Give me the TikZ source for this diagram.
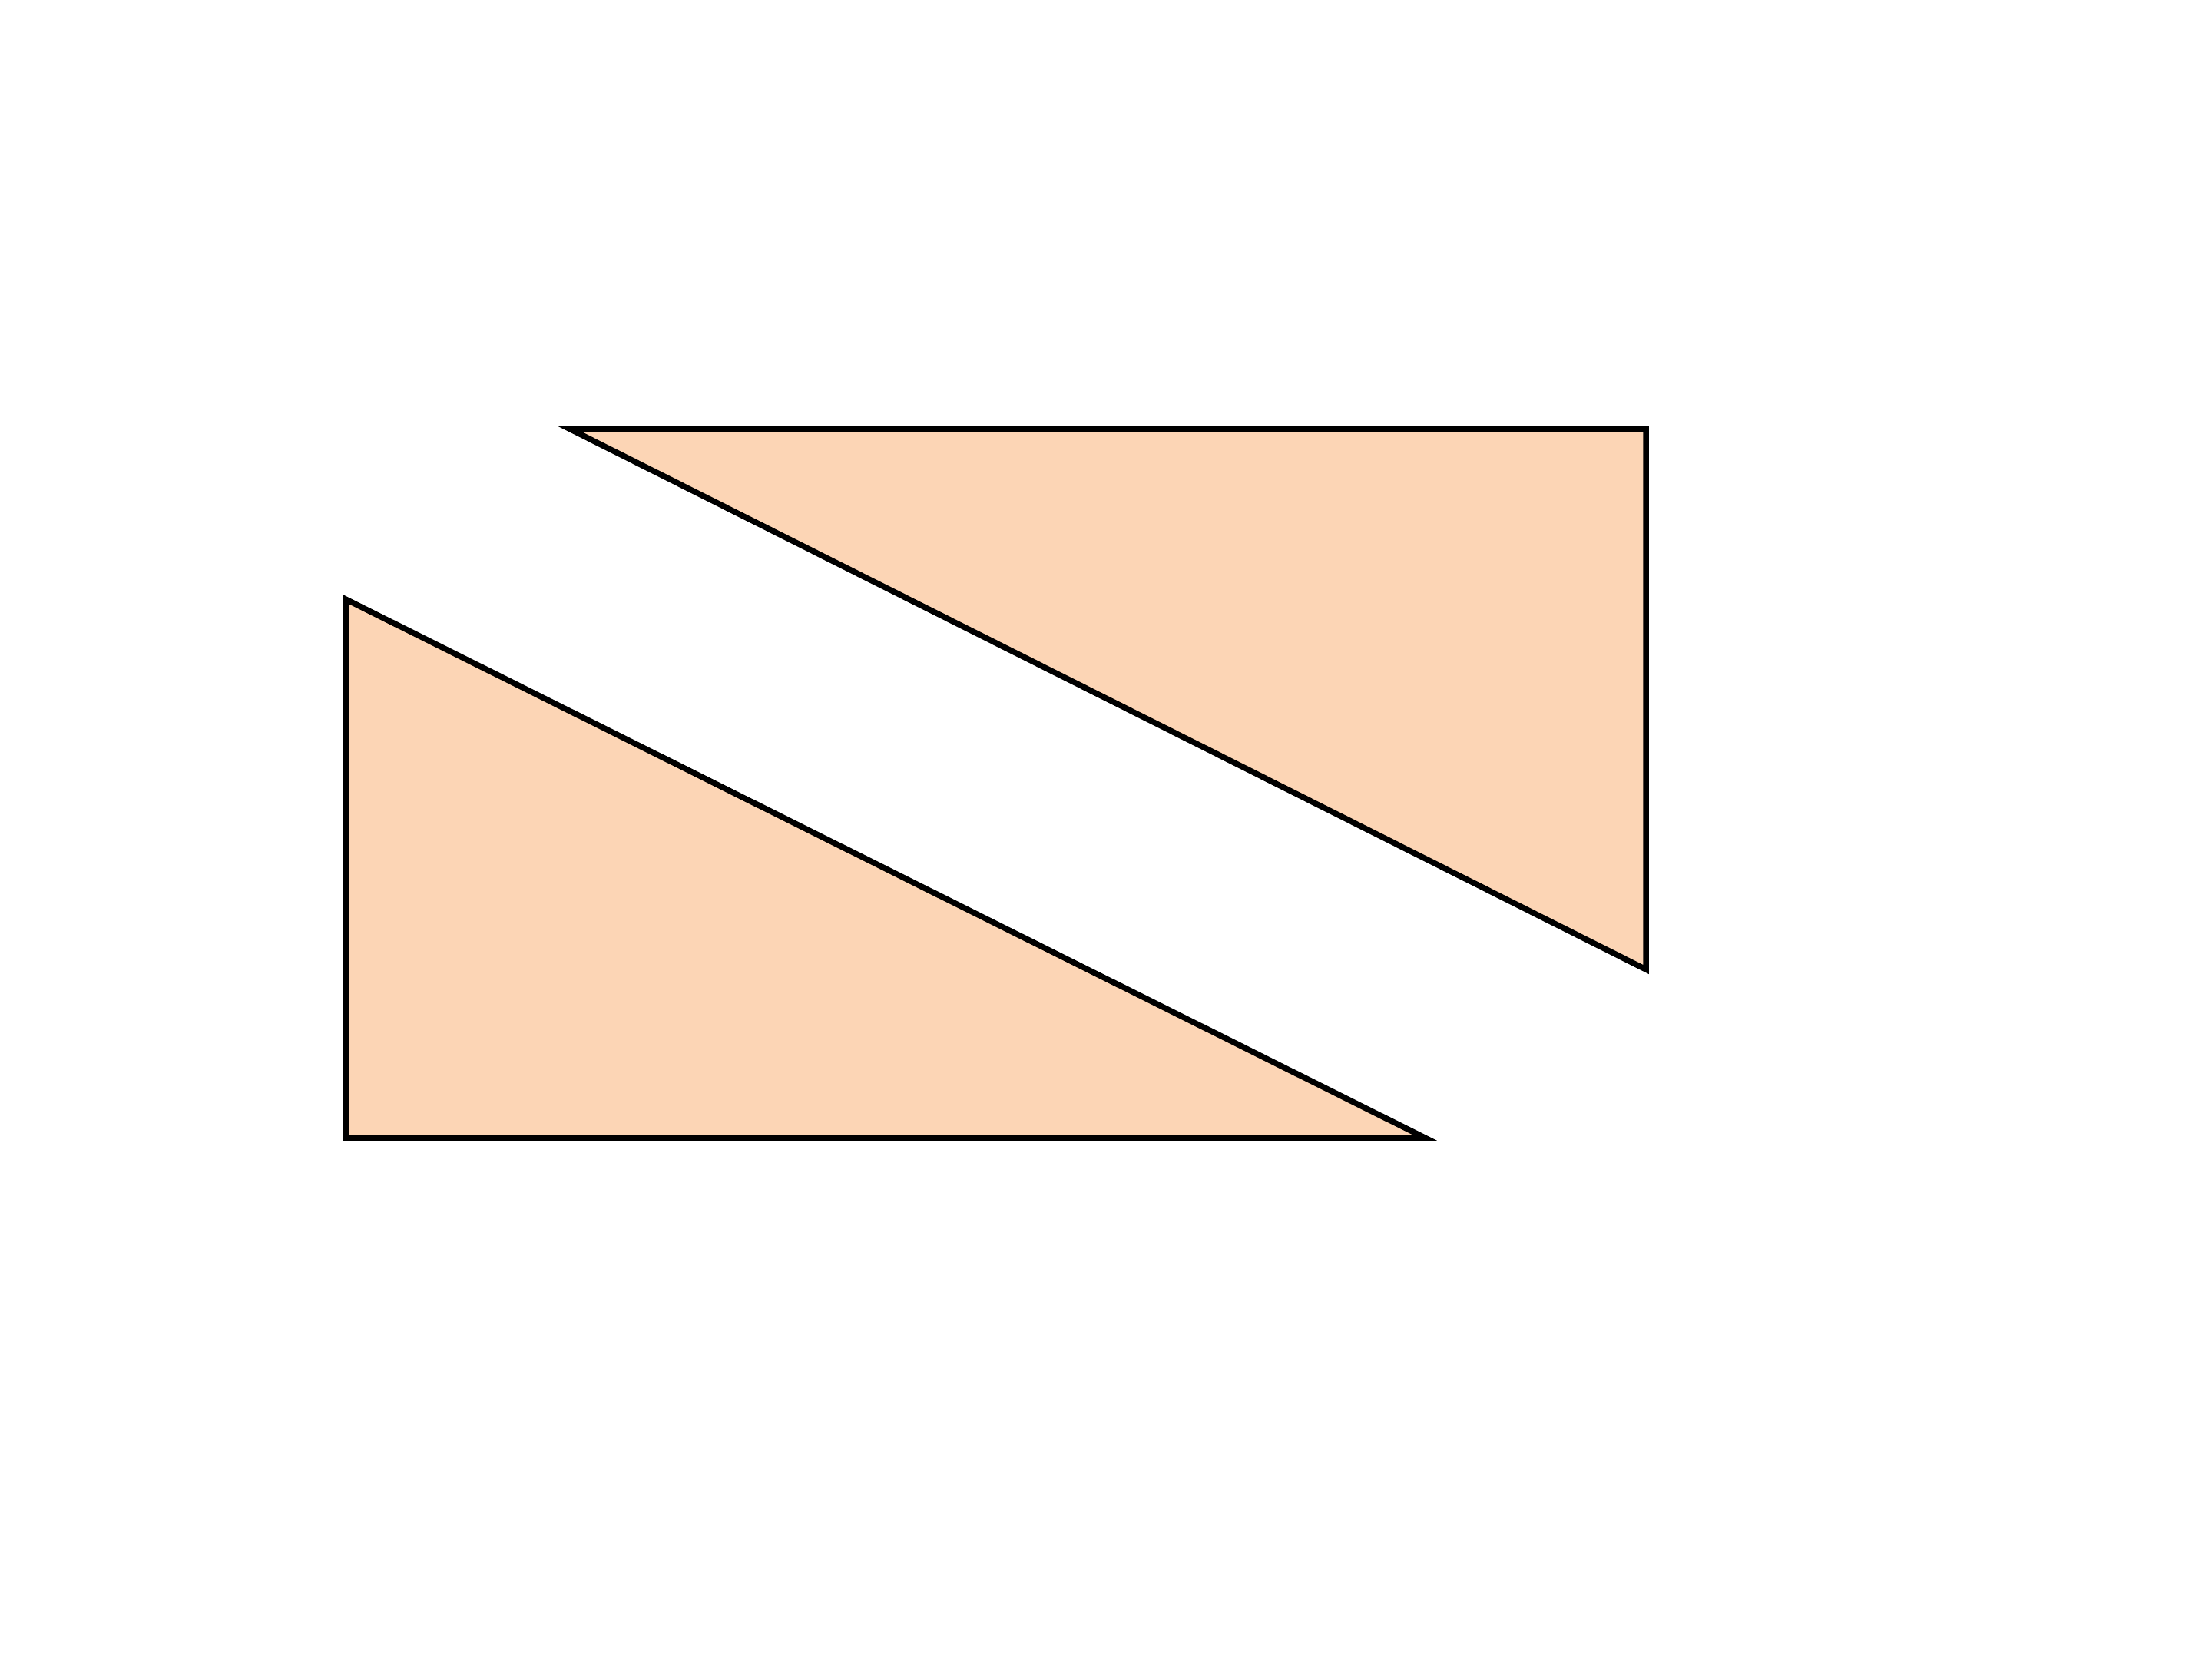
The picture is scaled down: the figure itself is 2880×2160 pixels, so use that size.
\documentclass[tikz,border=0pt]{standalone}
\definecolor{peach}{RGB}{252,213,181}
\begin{document}
\begin{tikzpicture}[x=1pt,y=-1pt,
  tri/.style={fill=peach,draw=black,line width=7.5pt,line join=miter}]
\useasboundingbox (0,0) rectangle (2880,2160);
\draw[tri] (741,558) -- (2143,558) -- (2143,1262) -- cycle;
\draw[tri] (450,780) -- (450,1481) -- (1855,1481) -- cycle;
\end{tikzpicture}
\end{document}
